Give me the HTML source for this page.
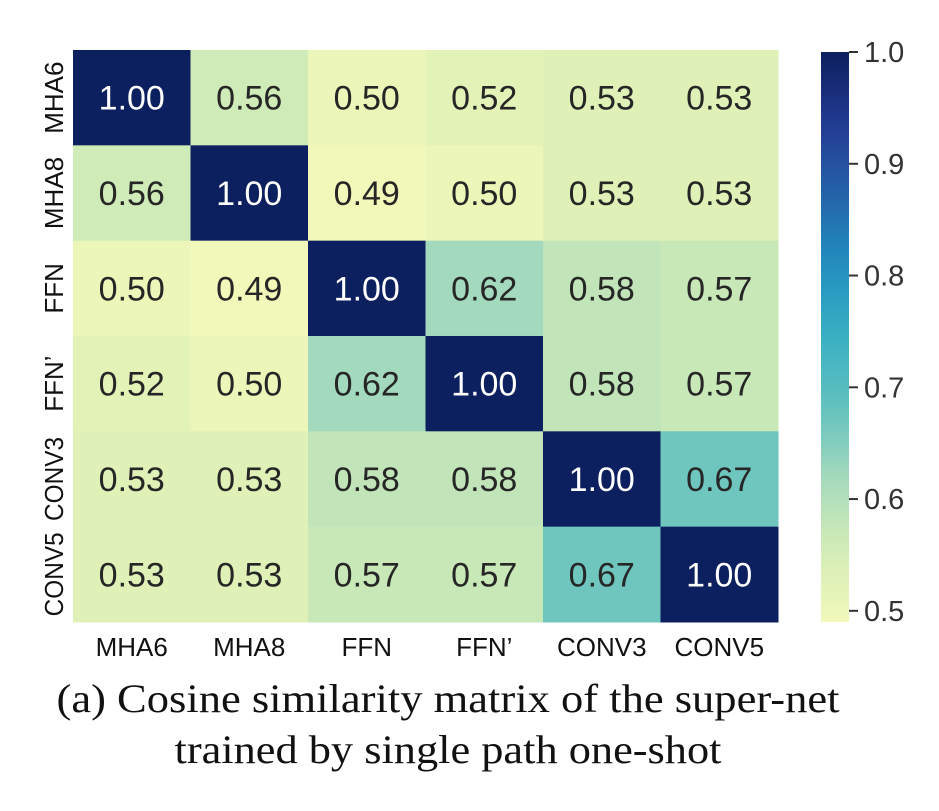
<!DOCTYPE html>
<html><head><meta charset="utf-8"><style>
body{margin:0;background:#fff;width:939px;height:811px;overflow:hidden}
svg{display:block}
</style></head><body>
<svg id="chart" width="939" height="811">
<defs><linearGradient id="cb" x1="0" y1="1" x2="0" y2="0"></linearGradient></defs>
<g id="cells"></g>
<g id="ylabels"></g>
<g id="xlabels"></g>
<rect x="821" y="52" width="28" height="570" fill="url(#cb)"/>
<g id="cbticks"></g>
<text x="448" y="712" text-anchor="middle" font-family="Liberation Serif, serif" font-size="40" textLength="783" lengthAdjust="spacingAndGlyphs" fill="#111">(a) Cosine similarity matrix of the super-net</text>
<text x="448" y="763" text-anchor="middle" font-family="Liberation Serif, serif" font-size="40" textLength="547" lengthAdjust="spacingAndGlyphs" fill="#111">trained by single path one-shot</text>
</svg>
<script>
const labels=["MHA6","MHA8","FFN","FFN’","CONV3","CONV5"];
const row0=[1.00,0.56,0.50,0.52,0.53,0.53];
const row1=[0.56,1.00,0.49,0.50,0.53,0.53];
const row2=[0.50,0.49,1.00,0.62,0.58,0.57];
const row3=[0.52,0.50,0.62,1.00,0.58,0.57];
const row4=[0.53,0.53,0.58,0.58,1.00,0.67];
const row5=[0.53,0.53,0.57,0.57,0.67,1.00];
const matrix=[row0,row1,row2,row3,row4,row5];
const cbTicks=[0.5,0.6,0.7,0.8,0.9,1.0];
const vmin=0.49,vmax=1.0;
const stops=["#f1f8b9","#d4edb6","#a6dabc","#62c2be","#3aafc3","#2190c0","#2463a9","#233a92","#0c1f5e"];
const NS="http://www.w3.org/2000/svg";
const X0=73,Y0=50,CW=117.5,RH=95.33;
const xs=i=>X0+i*CW, ys=j=>Y0+j*RH;
const cbY=v=>622-(v-vmin)/(vmax-vmin)*570;
function hex(c){return [1,3,5].map(i=>parseInt(c.substr(i,2),16));}
function color(v){let t=Math.max(0,Math.min(1,(v-vmin)/(vmax-vmin)))*(stops.length-1);let i=Math.min(Math.floor(t),stops.length-2),f=t-i;let a=hex(stops[i]),b=hex(stops[i+1]);return "rgb("+a.map((x,k)=>Math.round(x+(b[k]-x)*f)).join(",")+")";}
function mk(tag,attrs,parent){const e=document.createElementNS(NS,tag);for(const k in attrs)e.setAttribute(k,attrs[k]);parent.appendChild(e);return e;}
const cells=document.getElementById('cells');
matrix.forEach((row,j)=>row.forEach((v,i)=>{
 const r=mk('rect',{x:xs(i),y:ys(j),width:CW+0.5,height:RH+0.5,fill:color(v)},cells);
 
 
 const t=mk('text',{x:xs(i)+CW/2,y:ys(j)+RH/2+12,'text-anchor':'middle','font-family':'Liberation Sans, sans-serif','font-size':'34',fill:v>0.8?'#fff':'#262626'},cells);
 t.textContent=v.toFixed(2);
 
 
}));
const yl=document.getElementById('ylabels'),xl=document.getElementById('xlabels');
labels.forEach((l,j)=>{
 const cy=ys(j)+RH/2;
 const t=mk('text',{x:0,y:0,transform:`translate(63,${cy}) rotate(-90)`,'text-anchor':'middle','font-family':'Liberation Sans, sans-serif','font-size':'26',fill:'#111'},yl);
 t.textContent=l;
 if(t.getComputedTextLength()>84){t.setAttribute('textLength','84');t.setAttribute('lengthAdjust','spacingAndGlyphs');}
 
 
 const u=mk('text',{x:xs(j)+CW/2,y:656,'text-anchor':'middle','font-family':'Liberation Sans, sans-serif','font-size':'26',fill:'#111'},xl);
 u.textContent=l;
 
 
});
const g=document.getElementById('cb');
for(let k=0;k<=20;k++){const v=vmin+(vmax-vmin)*k/20;mk('stop',{offset:k/20,'stop-color':color(v)},g);}
const cbt=document.getElementById('cbticks');
cbTicks.forEach(v=>{
 const y=cbY(v);
 const l=mk('line',{x1:849,x2:858,y1:y,y2:y,stroke:'#333','stroke-width':2},cbt);
 
 
 const t=mk('text',{x:864,y:y+10,'font-family':'Liberation Sans, sans-serif','font-size':'29',fill:'#333'},cbt);
 t.textContent=v.toFixed(1);
 
 
});
</script>
</body></html>
